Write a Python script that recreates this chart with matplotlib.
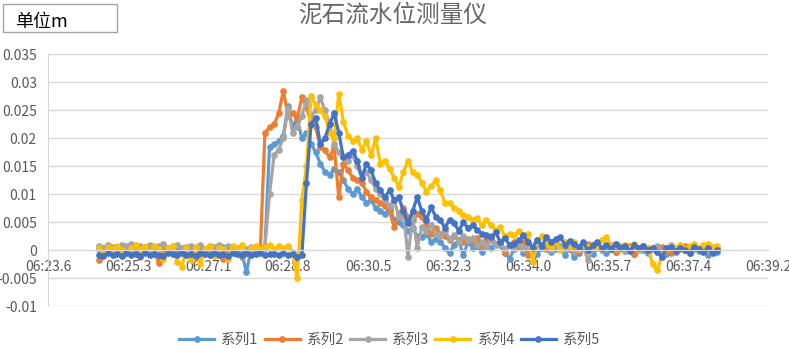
import numpy as np
import matplotlib
matplotlib.use('Agg')
import matplotlib.pyplot as plt
from matplotlib.patches import Rectangle

plt.rcParams['font.family'] = ['Noto Sans CJK SC', 'DejaVu Sans']

# readings in mm, one every 0.1 s starting at 06:24.7
t_start = 24.7
t_step = 0.1

s1 = [0.2, 0.5, 0.3, -0.2, 0.4, 0.6, 0.1, 0.3, -0.3, 0.4,
      0.2, 0.5, 0.0, 0.3, -0.4, 0.2, 0.6, 0.1, 0.4, 0.0,
      0.3, -0.2, 0.5, 0.2, 0.4, -0.1, 0.3, 0.6, 0.2, 0.1,
      0.4, -0.5, -3.9, 0.2, 0.5, 0.3, 0.4, 18.5, 19.0, 19.5,
      20.5, 25.8, 22.0, 23.5, 20.0, 21.0, 19.0, 17.5, 15.5, 14.0,
      13.5, 14.5, 14.0, 12.5, 11.0, 10.0, 11.0, 9.5, 8.5, 9.0,
      7.5, 7.0, 6.5, 7.5, 5.5, 5.0, 4.5, 3.5, 4.0, 2.5,
      2.3, 3.0, 1.5, 2.0, 1.5, 0.5, -0.5, 1.0, 1.8, -0.9,
      1.5, 0.5, 0.8, -0.3, 1.0, 0.5, 1.2, 0.9, -0.5, -1.5,
      0.3, 0.8, -0.4, 0.5, -1.2, -0.6, 0.4, 0.9, -0.3, 0.2,
      0.6, -0.8, 0.3, -1.2, -0.4, 0.5, 0.1, -0.6, 0.4, 0.0,
      -0.5, 0.3, -0.3, 0.6, -0.2, 0.2, -0.7, 0.4, 0.1, -0.4,
      0.3, -0.2, 0.5, -0.6, 0.2, -0.3, 0.4, 0.0, -0.5, 0.3,
      -0.2, 0.4, -0.9, 0.2, -0.3]

s2 = [-1.8, -0.5, 0.2, -0.3, 0.1, -0.6, 0.3, -0.2, 0.0, -1.2,
      0.2, -0.4, -0.1, -2.3, 0.3, -0.3, 0.1, -0.5, 0.2, -0.8,
      -0.2, 0.3, -1.0, 0.1, -0.4, 0.2, -0.3, -1.5, 0.0, 0.2,
      -0.4, -1.2, 0.1, -0.3, 0.2, -0.2, 21.0, 22.0, 22.5, 24.5,
      28.5, 24.0, 24.5, 23.5, 27.3, 25.6, 22.6, 22.0, 18.4, 17.9,
      16.6, 18.4, 9.5, 15.5, 14.3, 13.0, 12.5, 12.0, 10.5, 9.5,
      9.0, 8.4, 8.0, 7.0, 4.1, 6.6, 7.5, 6.0, 5.5, 6.5,
      6.0, 4.5, 3.0, 4.0, 3.0, 2.5, 1.8, 2.5, 1.8, 1.5,
      2.0, 1.5, 2.2, 1.0, 1.8, 2.5, 1.2, 1.5, -0.5, 1.0,
      1.5, 0.8, 1.8, -0.9, 0.6, 1.3, 0.9, 0.2, 1.4, 0.5,
      0.8, 1.2, 0.3, 0.9, -0.2, 0.7, 1.1, 0.4, 0.8, 0.2,
      0.5, 0.9, -0.3, 0.6, 0.3, 0.8, -0.6, 0.4, 0.7, 0.1,
      0.5, -0.2, 0.6, 0.3, -0.4, 0.5, 0.2, 0.7, -0.1, 0.4,
      0.3, 0.6, 0.0, 0.4, 0.2]

s3 = [0.8, 0.5, 1.0, 0.6, 0.3, 0.9, 0.7, 1.1, 0.4, 0.8,
      0.6, 1.0, 0.5, 0.8, 1.2, 0.4, 0.7, 0.9, 0.3, 0.6,
      0.8, 0.5, 1.0, 0.3, 0.7, 0.6, 0.9, 0.4, 0.8, 0.5,
      0.3, -1.0, 0.2, 0.6, 0.4, 0.5, 0.7, 10.0, 17.0, 18.0,
      20.0, 25.5, 21.0, 22.0, 24.0, 26.8, 24.0, 25.0, 27.3, 25.0,
      22.6, 19.0, 17.5, 16.6, 16.0, 17.0, 15.0, 13.0, 14.0, 12.5,
      11.0, 10.0, 9.0, 8.0, 9.0, 6.0, 7.0, -1.2, 6.0, 0.5,
      4.1, 3.5, 4.5, 3.0, 2.5, 3.5, 2.0, 2.8, 1.5, 2.5,
      1.8, 2.2, 1.0, 1.5, 0.6, 1.8, 0.9, 1.2, 0.3, 1.0,
      0.5, 1.2, 0.2, 0.8, -0.5, 0.9, 0.4, 1.1, 0.0, 0.6,
      0.8, 0.2, 1.0, -0.3, 0.5, 0.7, -1.8, 0.4, 0.9, 0.2,
      0.6, 1.0, 0.3, 0.7, -0.2, 0.5, 0.8, 0.1, 0.6, 0.4,
      0.2, 0.7, -0.4, 0.5, 0.9, 0.3, 0.6, 0.0, 0.5, 0.8,
      0.3, 0.6, 0.1, 0.4, 0.2]

s4 = [0.4, -0.8, 0.6, 0.2, 0.8, 0.0, -0.5, 0.5, 0.9, 0.3,
      0.6, -0.3, 0.7, 0.2, -1.5, 0.4, 0.8, -2.0, -3.0, 0.5,
      -1.8, 0.6, -2.5, 0.3, 0.8, -1.0, 0.5, 0.2, -1.5, 0.7,
      0.4, 0.9, -0.6, 0.5, 0.8, 0.2, 0.6, 0.9, 0.3, 0.7,
      0.5, 0.8, -0.3, -5.0, 9.0, 15.0, 27.5, 26.0, 25.0, 24.0,
      21.0, 20.0, 28.0, 23.0, 20.5, 19.5, 20.0, 18.0, 19.5, 17.0,
      20.0, 15.5, 16.0, 14.5, 13.0, 11.3, 14.0, 16.0, 14.0, 13.5,
      12.0, 10.5, 11.5, 12.5, 10.7, 8.4, 8.5, 7.5, 7.0, 6.3,
      6.0, 5.5, 5.7, 4.5, 5.4, 4.5, 3.6, 4.1, 2.5, 3.0,
      2.7, 3.5, 2.6, 3.0, -2.0, 1.8, 2.5, 1.2, 0.5, 1.6,
      0.0, 1.4, 0.8, 1.5, 0.3, 1.2, 0.6, 1.0, 0.4, 1.8,
      2.3, 0.8, 1.2, 0.3, 0.9, 0.5, 1.1, 0.2, 0.8, 0.4,
      -2.5, -3.6, -1.0, 0.3, 0.8, 0.5, 1.0, 0.3, 0.7, 1.2,
      0.5, 0.9, 1.2, 0.6, 0.8]

s5 = [-0.8, -1.0, -0.5, -0.9, -0.6, -1.1, -0.4, -0.8, -0.7, -1.0,
      -0.5, -0.9, -0.6, -0.8, -1.0, -0.4, -0.7, -0.9, -0.5, -0.8,
      -0.6, -1.0, -0.4, -0.7, -0.9, -0.5, -0.8, -0.6, -1.0, -0.5,
      -0.7, -0.9, -0.4, -0.8, -0.6, -0.5, -0.9, -0.7, -0.6, -0.8,
      -0.5, -0.9, -0.7, -1.2, -0.9, 12.0, 22.5, 23.7, 19.0, 20.0,
      22.5, 24.5, 21.0, 16.6, 17.0, 17.8, 16.0, 13.0, 15.5, 14.3,
      12.0, 10.7, 9.5, 10.7, 9.0, 9.5, 7.0, 4.8, 7.0, 9.5,
      7.0, 5.5, 7.7, 6.0, 5.4, 4.0, 5.5, 4.8, 3.5, 5.0,
      4.0, 4.5, 3.6, 3.0, 2.8, 2.3, 3.2, 1.5, 2.2, 0.9,
      1.2, 1.8, 2.7, 1.5, 0.5, 1.9, 0.8, 2.3, 1.5, 2.0,
      2.3, 1.0, 1.6, 1.2, 0.6, 1.4, 0.0, 0.9, 1.5, 0.4,
      1.0, 0.3, 1.2, 0.5, 0.8, -0.2, 0.9, 0.4, 0.7, 0.1,
      0.5, -0.3, -1.2, 0.4, 0.6, -0.2, 0.5, 0.1, -0.4, 0.6,
      0.2, -0.3, 0.4, -0.5, 0.1]

names = ['系列1', '系列2', '系列3', '系列4', '系列5']
colors = ['#5B9BD5', '#ED7D31', '#A5A5A5', '#FFC000', '#4472C4']

x_labels = ['06:23.6', '06:25.3', '06:27.1', '06:28.8', '06:30.5',
            '06:32.3', '06:34.0', '06:35.7', '06:37.4', '06:39.2']
y_ticks = [-0.01, -0.005, 0, 0.005, 0.01, 0.015, 0.02, 0.025, 0.03, 0.035]
y_labels = ['-0.01', '-0.005', '0', '0.005', '0.01', '0.015', '0.02', '0.025', '0.03', '0.035']

t = t_start + t_step * np.arange(len(s1))

fig = plt.figure(figsize=(7.89, 3.49), dpi=100)
ax = fig.add_axes([0.0608, 0.1223, 0.9126, 0.7221])

for s, name, c in zip([s1, s2, s3, s4, s5], names, colors):
    ax.plot(t, np.array(s) / 1000, color=c, lw=2.3, marker='o', ms=3.8, label=name)

x_ticks = np.linspace(23.6, 39.2, 10)
ax.set_xlim(x_ticks[0], x_ticks[-1])
ax.set_ylim(-0.01, 0.035)
ax.set_xticks(x_ticks)
ax.set_xticklabels(x_labels)
ax.set_yticks(y_ticks)
ax.set_yticklabels(y_labels)
ax.tick_params(axis='both', length=0, labelsize=10, colors='#595959')
ax.tick_params(axis='x', pad=7)
ax.tick_params(axis='y', pad=8)
ax.grid(axis='y', color='#D9D9D9', lw=1)
ax.set_axisbelow(True)
for side in ['top', 'right']:
    ax.spines[side].set_visible(False)
ax.spines['left'].set_color('#D9D9D9')
ax.spines['bottom'].set_color('#D9D9D9')
ax.spines['bottom'].set_position(('data', 0))

fig.text(0.497, 0.957, '泥石流水位测量仪', ha='center', va='center', fontsize=17, color='#666666')

fig.patches.append(Rectangle((0.0038, 0.9074), 0.1441, 0.0802, transform=fig.transFigure,
                             fill=False, edgecolor='#A6A6A6', lw=1))
fig.text(0.019, 0.938, '单位m', ha='left', va='center', fontsize=13, color='black')

fig.legend(loc='center', bbox_to_anchor=(0.494, 0.026), ncol=5, frameon=False,
           fontsize=10.5, handlelength=2.4, handletextpad=0.5, columnspacing=0.4,
           labelcolor='#595959')

plt.savefig('out.png', dpi=100)
